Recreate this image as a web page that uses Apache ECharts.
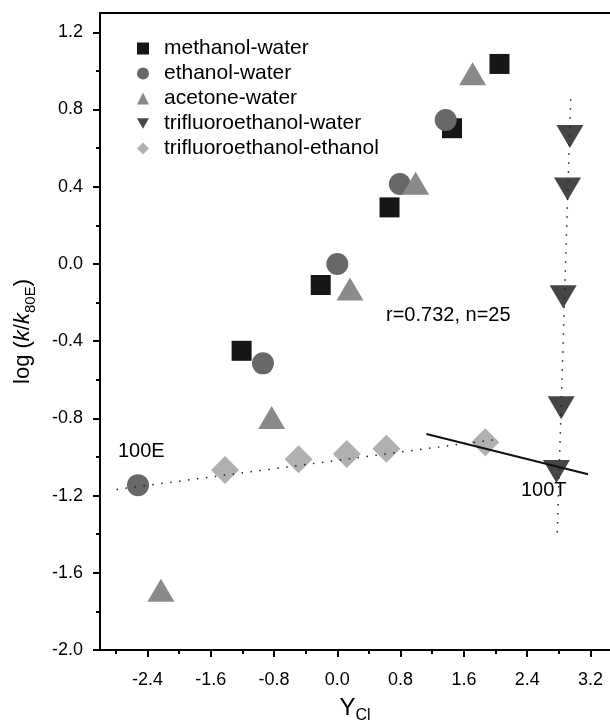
<!DOCTYPE html>
<html>
<head>
<meta charset="utf-8">
<style>
  html, body { margin: 0; padding: 0; background: #fff; }
  #chart { width: 610px; height: 720px; }
</style>
<script src="https://cdn.jsdelivr.net/npm/echarts@6/dist/echarts.min.js"></script>
</head>
<body>
<div id="chart"></div>
<script>
// values: x = Y_Cl, y = log(k/k80E)
var seriesNames = ["methanol-water", "ethanol-water", "acetone-water", "trifluoroethanol-water", "trifluoroethanol-ethanol"];
var methanolX = [2.05, 1.45, 0.66, -0.21, -1.21];
var methanolY = [1.036, 0.703, 0.293, -0.109, -0.45];
var ethanolX = [1.37, 0.79, 0.0, -0.94, -2.52];
var ethanolY = [0.746, 0.414, 0.0, -0.515, -1.146];
var acetoneX = [1.71, 0.99, 0.16, -0.83, -2.23];
var acetoneY = [0.985, 0.418, -0.13, -0.795, -1.69];
var tfeWaterX = [2.94, 2.91, 2.855, 2.83, 2.77];
var tfeWaterY = [0.66, 0.388, -0.17, -0.745, -1.075];
var tfeEthanolX = [-1.42, -0.49, 0.12, 0.62, 1.87];
var tfeEthanolY = [-1.068, -1.012, -0.985, -0.957, -0.924];

// fitted lines (end points)
var dotLineEX = [-2.79, 2.05];
var dotLineEY = [-1.168, -0.907];
var dotLineTX = [2.95, 2.778];
var dotLineTY = [0.853, -1.42];
var solidLineX = [1.126, 3.17];
var solidLineY = [-0.881, -1.09];

// ticks
var xTicks = [-2.4, -1.6, -0.8, 0, 0.8, 1.6, 2.4, 3.2];
var xMinorTicks = [-2.8, -2.0, -1.2, -0.4, 0.4, 1.2, 2.0, 2.8];
var yTicks = [-2.0, -1.6, -1.2, -0.8, -0.4, 0, 0.4, 0.8, 1.2];
var yMinorTicks = [-1.8, -1.4, -1.0, -0.6, -0.2, 0.2, 0.6, 1.0];

var font = "Liberation Sans, Arial, sans-serif";

function zip(xs, ys) {
  return xs.map(function (x, i) { return [x, ys[i]]; });
}

var myChart = echarts.init(document.getElementById("chart"));

var xRange = { min: -3.0, max: 3.447 };

var option = {
  backgroundColor: "#fff",
  animation: false,
  grid: { left: 100, top: 13, width: 510, height: 637, outerBoundsMode: "none", containLabel: false },
  legend: {
    orient: "vertical",
    left: 132,
    top: 33,
    itemWidth: 12,
    itemHeight: 12,
    itemGap: 4,
    selectedMode: false,
    textStyle: { fontSize: 21, color: "#000", fontFamily: font, lineHeight: 21, padding: [0, 0, 0, 10] },
    data: [
      { name: seriesNames[0], icon: "rect" },
      { name: seriesNames[1], icon: "circle" },
      { name: seriesNames[2], icon: "triangle" },
      { name: seriesNames[3], icon: "path://M0,0L10,0L5,8.7Z" },
      { name: seriesNames[4], icon: "diamond" }
    ]
  },
  xAxis: [
    {
      type: "value",
      min: xRange.min,
      max: xRange.max,
      position: "bottom",
      axisLine: { onZero: false, lineStyle: { color: "#000", width: 2 } },
      axisTick: { customValues: xTicks, length: 7, lineStyle: { color: "#000", width: 2 } },
      axisLabel: {
        customValues: xTicks,
        fontSize: 18,
        color: "#000",
        fontFamily: font,
        margin: 21,
        formatter: function (v) { return v.toFixed(1); }
      },
      splitLine: { show: false },
      name: "{a|Y}{b|Cl}",
      nameLocation: "middle",
      nameGap: 42,
      nameTextStyle: {
        rich: {
          a: { fontSize: 24, lineHeight: 32, color: "#000", fontFamily: font },
          b: { fontSize: 16, lineHeight: 16, verticalAlign: "bottom", color: "#000", fontFamily: font }
        }
      }
    },
    {
      type: "value",
      min: xRange.min,
      max: xRange.max,
      position: "bottom",
      axisLine: { show: false, onZero: false },
      axisTick: { customValues: xMinorTicks, length: 4, lineStyle: { color: "#000", width: 2 } },
      axisLabel: { show: false },
      splitLine: { show: false }
    },
    {
      type: "value",
      min: xRange.min,
      max: xRange.max,
      position: "top",
      axisLine: { onZero: false, lineStyle: { color: "#000", width: 2 } },
      axisTick: { show: false },
      axisLabel: { show: false },
      splitLine: { show: false }
    }
  ],
  yAxis: [
    {
      type: "value",
      min: -2.0,
      max: 1.3,
      position: "left",
      axisLine: { onZero: false, lineStyle: { color: "#000", width: 2 } },
      axisTick: { customValues: yTicks, length: 7, lineStyle: { color: "#000", width: 2 } },
      axisLabel: {
        customValues: yTicks,
        fontSize: 18,
        color: "#000",
        fontFamily: font,
        margin: 17,
        formatter: function (v) { return v.toFixed(1); }
      },
      splitLine: { show: false },
      name: "{a|log (}{i|k}{a|/}{i|k}{s|80E}{a|)}",
      nameLocation: "middle",
      nameRotate: 90,
      nameGap: 62,
      nameTextStyle: {
        rich: {
          a: { fontSize: 22, lineHeight: 30, color: "#000", fontFamily: font },
          i: { fontSize: 22, lineHeight: 30, fontStyle: "italic", color: "#000", fontFamily: font },
          s: { fontSize: 15, lineHeight: 15, verticalAlign: "bottom", color: "#000", fontFamily: font }
        }
      }
    },
    {
      type: "value",
      min: -2.0,
      max: 1.3,
      position: "left",
      axisLine: { show: false, onZero: false },
      axisTick: { customValues: yMinorTicks, length: 4, lineStyle: { color: "#000", width: 2 } },
      axisLabel: { show: false },
      splitLine: { show: false }
    }
  ],
  graphic: [
    { type: "text", left: 386, top: 305, style: { text: "r=0.732, n=25", font: "20px " + font, fill: "#000" } },
    { type: "text", left: 118, top: 441, style: { text: "100E", font: "20px " + font, fill: "#000" } },
    { type: "text", left: 521, top: 480, style: { text: "100T", font: "20px " + font, fill: "#000" } }
  ],
  series: [
    {
      name: seriesNames[0],
      type: "scatter",
      symbol: "rect",
      symbolSize: 20,
      itemStyle: { color: "#161616", opacity: 1 },
      data: zip(methanolX, methanolY)
    },
    {
      name: seriesNames[1],
      type: "scatter",
      symbol: "circle",
      symbolSize: 22,
      itemStyle: { color: "#686868", opacity: 1 },
      data: zip(ethanolX, ethanolY)
    },
    {
      name: seriesNames[2],
      type: "scatter",
      symbol: "triangle",
      symbolSize: [27, 23],
      itemStyle: { color: "#8a8a8a", opacity: 1 },
      data: zip(acetoneX, acetoneY)
    },
    {
      name: seriesNames[3],
      type: "scatter",
      symbol: "triangle",
      symbolRotate: 180,
      symbolSize: [27, 23],
      itemStyle: { color: "#464646", opacity: 1 },
      data: zip(tfeWaterX, tfeWaterY)
    },
    {
      name: seriesNames[4],
      type: "scatter",
      symbol: "diamond",
      symbolSize: [28, 28],
      itemStyle: { color: "#b0b0b0", opacity: 1 },
      data: zip(tfeEthanolX, tfeEthanolY)
    },
    {
      type: "line",
      symbol: "none",
      silent: true,
      z: 5,
      lineStyle: { color: "#222", width: 1.5, type: [1.5, 7.5] },
      data: zip(dotLineEX, dotLineEY)
    },
    {
      type: "line",
      symbol: "none",
      silent: true,
      z: 5,
      lineStyle: { color: "#222", width: 1.5, type: [1.5, 7.5] },
      data: zip(dotLineTX, dotLineTY)
    },
    {
      type: "line",
      symbol: "none",
      silent: true,
      z: 5,
      lineStyle: { color: "#111", width: 2, type: "solid" },
      data: zip(solidLineX, solidLineY)
    }
  ]
};

myChart.setOption(option);
</script>
</body>
</html>
